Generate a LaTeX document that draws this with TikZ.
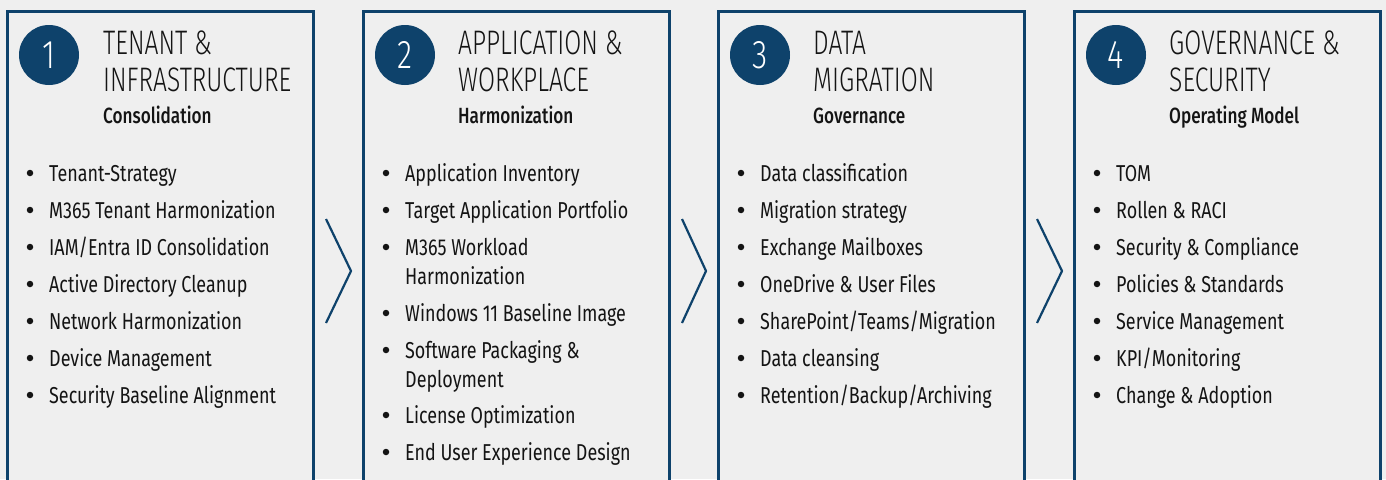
\documentclass[tikz,border=0pt]{standalone}
\usepackage{fontspec}
\usetikzlibrary{calc}
\setmainfont[FakeStretch=0.78]{Fira Sans}
\newfontfamily\titlefont[FakeStretch=0.725]{Fira Sans Light}
\newfontfamily\numfont[FakeStretch=0.78]{Fira Sans Light}
\newfontfamily\subfont[FakeStretch=0.78]{Fira Sans Medium}
\definecolor{navy}{RGB}{14,66,107}
\definecolor{bg}{RGB}{239,239,239}
\definecolor{ink}{RGB}{20,20,20}
\tikzset{
  box/.style={draw=navy, line width=3pt, fill=bg, minimum width=306pt, minimum height=500pt, anchor=north west, outer sep=0pt, inner sep=0pt},
  num/.style={circle, fill=navy, minimum size=60pt, inner sep=0pt, text=white, font=\numfont\fontsize{40}{40}\selectfont},
  ttl/.style={anchor=base west, inner sep=0pt, text=ink, font=\titlefont\fontsize{34}{34}\selectfont},
  sub/.style={anchor=base west, inner sep=0pt, text=ink, font=\subfont\fontsize{22}{22}\selectfont},
  itm/.style={anchor=base west, inner sep=0pt, text=ink, font=\fontsize{23}{23}\selectfont},
  dot/.style={circle, fill=ink, minimum size=6.5pt, inner sep=0pt},
  chev/.style={draw=navy, line width=2.2pt}
}
\newcommand\bitem[4]{\node[dot] at ($(#2,#3)+(0,-8)$) {}; \node[itm] (#1) at ($(#2,#3)+(19,0)$) {#4};}
\begin{document}
\begin{tikzpicture}[x=1pt,y=-1pt]
\fill[bg] (0,0) rectangle (1386,479);
\useasboundingbox (0,0) rectangle (1386,479);
\clip (0,0) rectangle (1386,479);
% boxes
\node[box] (b1) at (7,11) {};
\node[box] (b2) at (363,11) {};
\node[box] (b3) at (718,11) {};
\node[box] (b4) at (1074,11) {};
% chevrons
\draw[chev] ($(b1.north east)+(13,208)$) -- ($(b2.north west)+(-12,260)$) -- ($(b1.north east)+(13,312)$);
\draw[chev] ($(b2.north east)+(13,208)$) -- ($(b3.north west)+(-12,260)$) -- ($(b2.north east)+(13,312)$);
\draw[chev] ($(b3.north east)+(13,208)$) -- ($(b4.north west)+(-12,260)$) -- ($(b3.north east)+(13,312)$);
% box 1
\node[num] (n1) at (49,55) {1};
\node[ttl] (t1a) at (103,54) {TENANT \&};
\node[ttl] (t1b) at (103,91) {INFRASTRUCTURE};
\node[sub] (s1) at (103,123) {Consolidation};
\bitem{i11}{30}{181}{Tenant-Strategy}
\bitem{i12}{30}{218}{M365 Tenant Harmonization}
\bitem{i13}{30}{255}{IAM/Entra ID Consolidation}
\bitem{i14}{30}{292}{Active Directory Cleanup}
\bitem{i15}{30}{329}{Network Harmonization}
\bitem{i16}{30}{366}{Device Management}
\bitem{i17}{30}{403}{Security Baseline Alignment}
% box 2
\node[num] (n2) at (405,55) {2};
\node[ttl] (t2a) at (458,54) {APPLICATION \&};
\node[ttl] (t2b) at (458,91) {WORKPLACE};
\node[sub] (s2) at (458,123) {Harmonization};
\bitem{i21}{386}{181}{Application Inventory}
\bitem{i22}{386}{218}{Target Application Portfolio}
\bitem{i23}{386}{255}{M365 Workload}
\node[itm] (i23b) at (405,284) {Harmonization};
\bitem{i24}{386}{321}{Windows 11 Baseline Image}
\bitem{i25}{386}{358}{Software Packaging \&}
\node[itm] (i25b) at (405,387) {Deployment};
\bitem{i26}{386}{423}{License Optimization}
\bitem{i27}{386}{460}{End User Experience Design}
% box 3
\node[num] (n3) at (760,55) {3};
\node[ttl] (t3a) at (813,54) {DATA};
\node[ttl] (t3b) at (813,91) {MIGRATION};
\node[sub] (s3) at (813,123) {Governance};
\bitem{i31}{741}{181}{Data classification}
\bitem{i32}{741}{218}{Migration strategy}
\bitem{i33}{741}{255}{Exchange Mailboxes}
\bitem{i34}{741}{292}{OneDrive \& User Files}
\bitem{i35}{741}{329}{SharePoint/Teams/Migration}
\bitem{i36}{741}{366}{Data cleansing}
\bitem{i37}{741}{403}{Retention/Backup/Archiving}
% box 4
\node[num] (n4) at (1116,55) {4};
\node[ttl] (t4a) at (1169,54) {GOVERNANCE \&};
\node[ttl] (t4b) at (1169,91) {SECURITY};
\node[sub] (s4) at (1169,123) {Operating Model};
\bitem{i41}{1097}{181}{TOM}
\bitem{i42}{1097}{218}{Rollen \& RACI}
\bitem{i43}{1097}{255}{Security \& Compliance}
\bitem{i44}{1097}{292}{Policies \& Standards}
\bitem{i45}{1097}{329}{Service Management}
\bitem{i46}{1097}{366}{KPI/Monitoring}
\bitem{i47}{1097}{403}{Change \& Adoption}
\end{tikzpicture}
\end{document}
